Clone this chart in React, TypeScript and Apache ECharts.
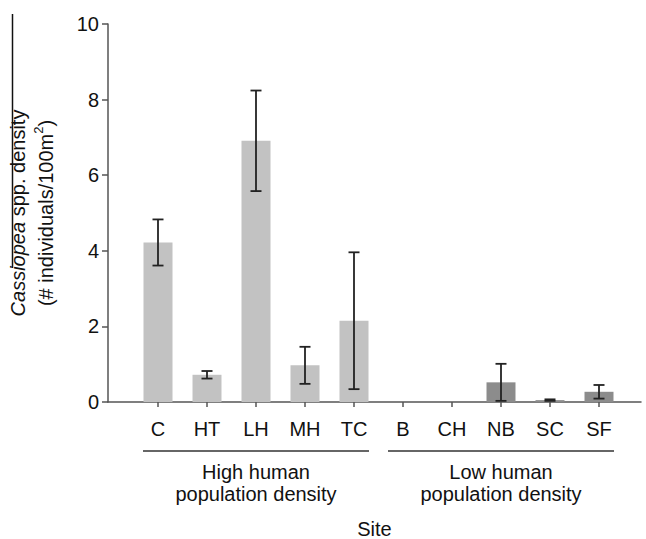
import React, { useEffect, useRef } from 'react';
import * as echarts from 'echarts';

const sites = ['C', 'HT', 'LH', 'MH', 'TC', 'B', 'CH', 'NB', 'SC', 'SF'];
const densityMean = [4.22, 0.72, 6.91, 0.97, 2.15, 0, 0, 0.52, 0.05, 0.27];
const densityError = [0.61, 0.1, 1.33, 0.49, 1.81, 0, 0, 0.49, 0.02, 0.18];
const siteGroup = ['high', 'high', 'high', 'high', 'high', 'low', 'low', 'low', 'low', 'low'];
const groupKeys = ['high', 'low'];
const groupLabels = ['High human\npopulation density', 'Low human\npopulation density'];
const groupColors = ['#c2c2c2', '#8c8c8c'];
const yMin = 0;
const yMax = 10;
const yInterval = 2;

const FONT = '"Liberation Sans", Arial, Helvetica, sans-serif';
const AXIS_COLOR = '#555';
const TEXT_COLOR = '#111';

export default function App() {
  const ref = useRef<HTMLDivElement>(null);
  useEffect(() => {
    if (!ref.current) return;
    const chart = echarts.init(ref.current, undefined, { renderer: 'svg' });

    const barData = densityMean.map((v, i) => ({
      value: v,
      itemStyle: { color: groupColors[groupKeys.indexOf(siteGroup[i])] },
    }));
    const errData = densityMean
      .map((v, i) => [i, v - densityError[i], v + densityError[i], v])
      .filter((d) => d[3] > 0);

    const gridTop = 24;
    const gridBottom = 137;

    chart.setOption({
      animation: false,
      backgroundColor: '#fff',
      textStyle: { fontFamily: FONT },
      grid: [
        { left: 108, right: 5, top: gridTop, bottom: gridBottom, containLabel: false, outerBoundsMode: 'none' },
        { left: 133.5, right: 22.5, top: gridTop, bottom: gridBottom, containLabel: false, outerBoundsMode: 'none' },
      ],
      xAxis: [
        {
          type: 'value',
          gridIndex: 0,
          min: 0,
          max: 1,
          axisLine: { show: true, lineStyle: { color: AXIS_COLOR, width: 1.5 } },
          axisTick: { show: false },
          axisLabel: { show: false },
          splitLine: { show: false },
          name: 'Site',
          nameLocation: 'middle',
          nameGap: 117,
          nameTextStyle: { fontSize: 20, lineHeight: 20, color: TEXT_COLOR, fontFamily: FONT },
        },
        {
          type: 'category',
          gridIndex: 1,
          data: sites,
          axisLine: { show: false },
          axisTick: {
            show: true,
            alignWithLabel: true,
            length: 5,
            lineStyle: { color: AXIS_COLOR, width: 1.5 },
          },
          axisLabel: { fontSize: 20, color: TEXT_COLOR, margin: 17, fontFamily: FONT },
          splitLine: { show: false },
        },
      ],
      yAxis: [
        {
          type: 'value',
          gridIndex: 0,
          min: yMin,
          max: yMax,
          interval: yInterval,
          axisLine: { show: true, lineStyle: { color: AXIS_COLOR, width: 1.5 } },
          axisTick: { show: true, length: 6, lineStyle: { color: AXIS_COLOR, width: 1.5 } },
          axisLabel: { fontSize: 20, color: TEXT_COLOR, margin: 9, fontFamily: FONT },
          splitLine: { show: false },
          name: '{it|Cassiopea} spp. density\n(# individuals/100m{sup|2})',
          nameLocation: 'middle',
          nameRotate: 90,
          nameGap: 48,
          nameTextStyle: {
            fontSize: 20,
            color: TEXT_COLOR,
            fontFamily: FONT,
            lineHeight: 28,
            rich: {
              it: { fontStyle: 'italic', fontSize: 20, color: TEXT_COLOR, fontFamily: FONT, lineHeight: 28 },
              sup: { fontSize: 13, color: TEXT_COLOR, fontFamily: FONT, verticalAlign: 'top', lineHeight: 28 },
            },
          },
        },
        {
          type: 'value',
          gridIndex: 1,
          min: yMin,
          max: yMax,
          interval: yInterval,
          show: false,
        },
      ],
      series: [
        {
          type: 'bar',
          xAxisIndex: 1,
          yAxisIndex: 1,
          data: barData,
          barWidth: 29,
          z: 2,
        },
        {
          type: 'custom',
          xAxisIndex: 1,
          yAxisIndex: 1,
          data: errData,
          z: 3,
          renderItem: (params: any, api: any) => {
            const x = api.value(0);
            const lo = api.value(1);
            const hi = api.value(2);
            const top = api.coord([x, hi]);
            const bot = api.coord([x, lo]);
            const cw = 5.5;
            const style = { stroke: '#222', lineWidth: 1.8 };
            return {
              type: 'group',
              children: [
                { type: 'line', shape: { x1: top[0], y1: top[1], x2: bot[0], y2: bot[1] }, style },
                { type: 'line', shape: { x1: top[0] - cw, y1: top[1], x2: top[0] + cw, y2: top[1] }, style },
                { type: 'line', shape: { x1: bot[0] - cw, y1: bot[1], x2: bot[0] + cw, y2: bot[1] }, style },
              ],
            };
          },
        },
      ],
    });

    // group brackets and labels, placed from the category axis
    const graphics: any[] = [];
    const lineY = 451;
    groupKeys.forEach((g, gi) => {
      const idx = siteGroup.map((s, i) => (s === g ? i : -1)).filter((i) => i >= 0);
      const first = chart.convertToPixel({ gridIndex: 1 }, [idx[0], 0]) as number[];
      const last = chart.convertToPixel({ gridIndex: 1 }, [idx[idx.length - 1], 0]) as number[];
      const x1 = first[0] - 15;
      const x2 = last[0] + 15;
      graphics.push({
        type: 'line',
        shape: { x1, y1: lineY, x2, y2: lineY },
        style: { stroke: '#666', lineWidth: 2 },
      });
      graphics.push({
        type: 'text',
        x: (x1 + x2) / 2,
        y: lineY + 10,
        style: {
          text: groupLabels[gi],
          fontSize: 20,
          fontFamily: FONT,
          fill: TEXT_COLOR,
          align: 'center',
          verticalAlign: 'top',
          lineHeight: 22,
        },
      });
    });
    graphics.push({
      type: 'line',
      shape: { x1: 12.5, y1: 14, x2: 12.5, y2: 268 },
      style: { stroke: '#111', lineWidth: 1.5 },
    });
    chart.setOption({ graphic: graphics });

    return () => chart.dispose();
  }, []);

  return (
    <div
      ref={ref}
      style={{ position: 'absolute', left: 0, top: 0, width: 646, height: 539 }}
    />
  );
}
